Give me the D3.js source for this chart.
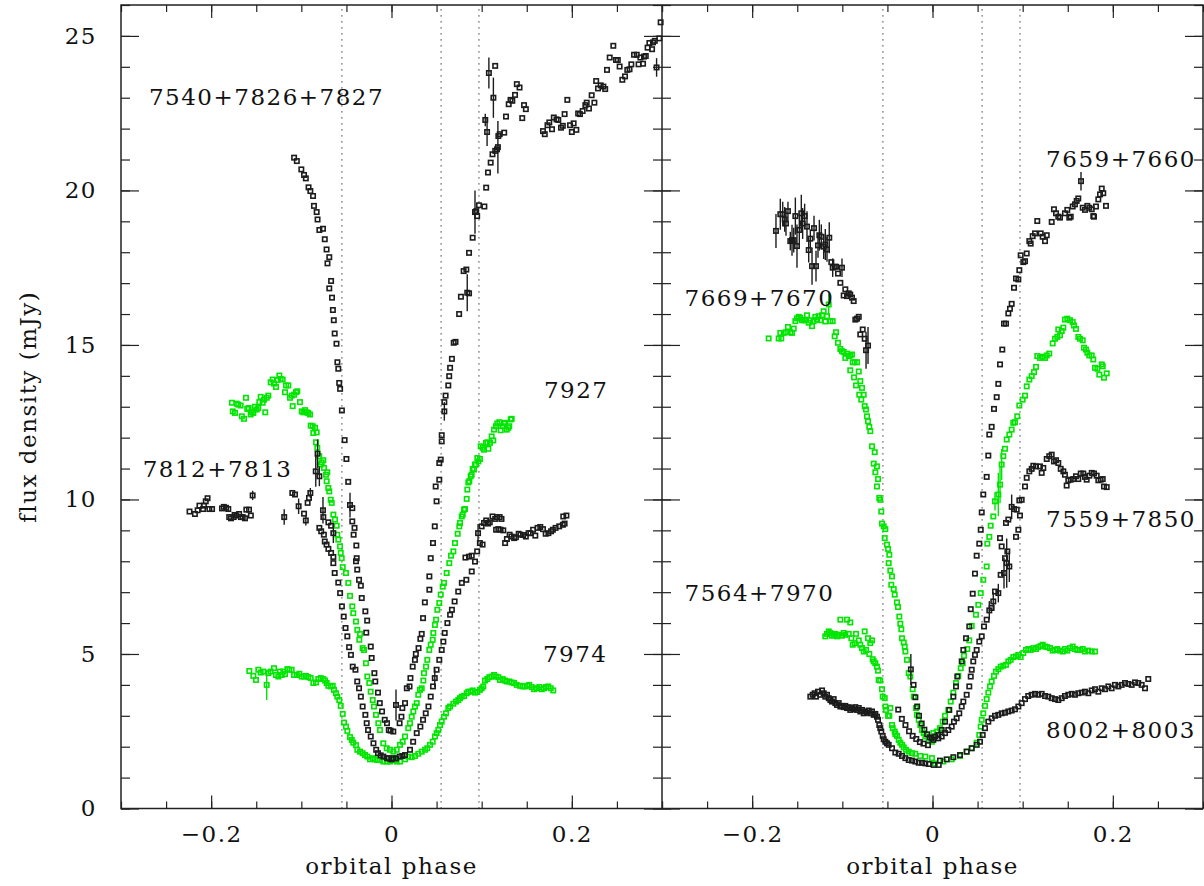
<!DOCTYPE html>
<html lang="en">
<head>
<meta charset="utf-8" />
<title>Eclipse light curves</title>
<script src="https://d3js.org/d3.v7.min.js"></script>
<style>
  body { margin: 0; background: #fff; }
  svg text { font-family: "DejaVu Serif", serif; font-size: 23px; letter-spacing: 1.5px; fill: #111; }
</style>
</head>
<body>
<script>
// ---- data: [phase, flux (mJy), error] ----
// left panel
const s7540 = [[-0.108,21.06],[-0.105,20.95],[-0.100,20.68],[-0.097,20.5],[-0.095,20.39],[-0.092,20.1],[-0.090,19.98],[-0.087,19.82],[-0.086,19.5],[-0.083,19.3],[-0.082,19.06],[-0.080,18.72],[-0.076,18.76],[-0.074,18.42],[-0.072,18.09],[-0.069,17.84],[-0.071,17.64],[-0.067,17.07],[-0.069,16.83],[-0.066,16.53],[-0.065,16.13],[-0.064,15.8],[-0.063,15.37],[-0.061,15.04],[-0.060,14.44],[-0.059,14.23],[-0.058,13.77],[-0.057,13.58],[-0.055,12.88],[-0.052,11.92],[-0.050,11.31],[-0.048,10.57],[-0.046,9.82,0.4],[-0.0435,9.72],[-0.0435,9.29],[-0.041,9.08],[-0.042,8.86],[-0.039,8.51],[-0.0386,8.1],[-0.0394,8.0],[-0.038,7.73],[-0.036,7.40],[-0.034,7.21],[-0.033,6.81],[-0.029,6.38],[-0.027,6.08],[-0.028,5.69],[-0.023,5.24],[-0.022,4.87],[-0.019,4.38],[-0.018,4.11],[-0.015,3.75],[-0.013,3.41],[-0.0105,3.14],[-0.0075,2.87],[-0.005,2.76],[-0.003,2.54],[-0.001,2.52],[0.002,2.49],[0.005,3.35,0.5],[0.009,2.76],[0.011,2.97],[0.012,3.25],[0.015,3.41],[0.017,3.89],[0.020,3.95],[0.021,4.22],[0.0235,4.59],[0.026,4.81],[0.027,5.0],[0.030,5.19],[0.032,5.49],[0.0335,5.65],[0.035,6.16],[0.037,6.67],[0.042,7.08],[0.042,7.51],[0.0435,8.10],[0.046,8.59],[0.048,9.13],[0.050,9.94],[0.049,10.42],[0.053,10.64],[0.053,11.18],[0.0546,11.29],[0.0557,11.88],[0.0557,12.08],[0.0586,12.85,0.3],[0.0586,13.15],[0.060,13.36],[0.063,13.69],[0.064,13.99],[0.065,14.26],[0.067,14.55],[0.069,15.07],[0.071,15.10],[0.075,16.0],[0.077,16.56],[0.084,16.69,0.6],[0.086,16.67],[0.080,17.39],[0.083,17.44],[0.086,17.98],[0.090,18.47],[0.0926,19.3,0.7],[0.094,19.33],[0.095,19.17],[0.097,19.52],[0.103,19.48],[0.105,20.09],[0.107,20.58],[0.110,20.9],[0.112,21.17],[0.115,21.28],[0.117,21.33],[0.118,21.4,0.85],[0.1185,21.76],[0.120,21.82],[0.125,21.87],[0.104,22.28,0.2],[0.106,21.89,0.45],[0.108,23.8,0.5],[0.113,23.0,0.65],[0.115,24.03],[0.127,22.39],[0.130,22.79],[0.132,22.93],[0.134,22.9],[0.137,23.09],[0.139,23.44],[0.142,23.33],[0.145,22.34],[0.147,22.76],[0.149,22.63],[0.168,21.92],[0.170,21.82],[0.173,22.11],[0.175,22.2],[0.178,21.98],[0.180,22.36],[0.183,22.3],[0.185,22.28],[0.188,22.03],[0.190,22.09],[0.192,22.47],[0.195,22.93],[0.198,22.11],[0.200,21.89],[0.202,22.17],[0.205,21.96],[0.207,22.49],[0.209,22.47],[0.212,22.57],[0.215,22.76],[0.2165,22.84],[0.219,22.65],[0.222,23.08],[0.225,22.84],[0.227,23.54],[0.229,23.3],[0.232,23.4],[0.235,23.36],[0.237,23.28],[0.239,23.9],[0.242,24.3],[0.246,24.68],[0.249,24.22],[0.251,24.22],[0.253,24.01],[0.256,23.58],[0.259,23.69],[0.2615,23.9],[0.264,23.92],[0.266,24.08],[0.269,24.39],[0.272,24.39],[0.274,24.08],[0.276,24.3],[0.279,24.1],[0.280,24.33],[0.282,24.35],[0.284,24.62],[0.286,24.77],[0.289,24.57],[0.290,24.79],[0.292,24.84],[0.294,23.98,0.3],[0.297,24.92],[0.2985,25.44]];

const s7812 = [[-0.224,9.61],[-0.218,9.53],[-0.215,9.65],[-0.213,9.8],[-0.209,9.69],[-0.208,9.8],[-0.206,9.94],[-0.204,10.04],[-0.202,9.69],[-0.199,9.69],[-0.188,9.71],[-0.186,9.76],[-0.1835,9.73],[-0.181,9.69],[-0.180,9.43],[-0.178,9.39],[-0.175,9.43],[-0.174,9.5],[-0.172,9.48],[-0.169,9.53],[-0.167,9.43],[-0.165,9.43],[-0.1625,9.39],[-0.161,9.67],[-0.158,9.67],[-0.156,9.48],[-0.154,10.13,0.15],[-0.119,9.43,0.25],[-0.110,10.21],[-0.107,10.16],[-0.103,9.78,0.25],[-0.097,9.54],[-0.095,9.32,0.16],[-0.093,9.89],[-0.0915,10.05],[-0.090,10.21,0.16],[-0.084,10.91,0.5],[-0.082,11.48,0.46],[-0.080,10.75,0.32],[-0.076,9.65,0.43],[-0.0756,9.43],[-0.070,9.26],[-0.067,9.15],[-0.0645,8.91,0.32],[-0.080,9.08],[-0.078,8.97],[-0.075,8.86],[-0.074,8.64],[-0.072,8.54],[-0.070,8.40],[-0.067,8.27],[-0.0645,8.14],[-0.0645,7.94],[-0.063,7.62],[-0.059,7.31],[-0.057,6.97],[-0.055,6.54],[-0.053,6.21],[-0.051,5.84],[-0.049,5.57],[-0.047,5.22],[-0.045,4.97],[-0.043,4.59],[-0.040,4.49],[-0.038,4.11],[-0.036,3.89],[-0.034,3.62],[-0.032,3.30],[-0.029,3.03],[-0.0275,2.76],[-0.026,2.54],[-0.023,2.33],[-0.020,2.11],[-0.017,1.90],[-0.015,1.79],[-0.012,1.72],[-0.009,1.68],[-0.005,1.63],[-0.003,1.62],[0.000,1.59],[0.002,1.63],[0.005,1.62],[0.009,1.68],[0.012,1.7],[0.015,1.73],[0.0205,1.9],[0.024,2.16],[0.028,2.44],[0.032,2.65],[0.035,2.87],[0.038,3.08],[0.041,3.30],[0.0435,3.62],[0.046,3.95],[0.048,4.22,0.3],[0.050,4.49],[0.053,4.81],[0.0557,5.13],[0.0575,5.40],[0.059,5.68],[0.062,6.0],[0.065,6.27],[0.067,6.43],[0.070,6.70],[0.074,7.02],[0.078,7.30],[0.083,7.40],[0.089,7.67],[0.0926,7.99],[0.082,8.12],[0.086,8.15],[0.089,8.18],[0.095,8.32],[0.098,8.59],[0.101,8.54],[0.096,8.91,0.3],[0.100,9.13],[0.1026,9.24],[0.105,9.32],[0.107,9.22],[0.109,9.26],[0.112,9.45],[0.115,9.37],[0.117,9.43],[0.120,9.43],[0.122,9.37],[0.116,9.02],[0.1185,9.04],[0.121,9.02],[0.124,9.0],[0.126,8.59],[0.128,8.72],[0.131,8.86],[0.133,8.80],[0.136,8.75],[0.138,8.78],[0.141,8.89],[0.143,8.86],[0.146,8.85],[0.149,8.80],[0.152,8.91],[0.154,8.91],[0.157,9.02],[0.1595,8.83],[0.162,9.08],[0.165,9.11],[0.168,9.04],[0.171,8.89],[0.174,8.91],[0.177,8.97],[0.179,9.02],[0.182,9.08],[0.186,9.13],[0.190,9.18],[0.192,9.22],[0.1905,9.45],[0.194,9.48]];

const s7927 = [[-0.177,13.13],[-0.176,12.85],[-0.1736,12.80],[-0.1717,13.10],[-0.170,13.07],[-0.1673,13.04],[-0.166,12.69],[-0.1636,12.61],[-0.1614,13.29],[-0.160,12.93],[-0.1584,12.96],[-0.1562,12.75],[-0.155,12.82],[-0.1532,12.80],[-0.1514,13.0],[-0.1495,12.91],[-0.1477,12.96],[-0.1466,13.15],[-0.1451,13.32],[-0.1429,13.13],[-0.1414,13.23],[-0.140,12.82],[-0.1384,13.29],[-0.1366,13.36],[-0.134,13.79],[-0.1318,13.88],[-0.1303,13.75],[-0.1281,13.64],[-0.1266,13.86],[-0.1244,14.01],[-0.1229,13.90],[-0.1207,13.88],[-0.1181,13.47],[-0.117,13.69],[-0.1144,13.69],[-0.1126,13.29],[-0.1107,13.36],[-0.1096,13.02],[-0.1081,13.39],[-0.1059,13.47],[-0.1045,13.50],[-0.1015,13.15],[-0.0996,12.85],[-0.0978,12.82],[-0.0959,12.89],[-0.094,12.82],[-0.0923,12.80],[-0.0904,12.75],[-0.0896,12.39],[-0.0874,12.37],[-0.0867,12.15],[-0.0848,12.32],[-0.083,12.17],[-0.0837,11.85],[-0.0823,11.67],[-0.0801,11.40],[-0.0785,11.13],[-0.0774,11.2],[-0.0756,11.27],[-0.0749,11.02],[-0.0726,10.80],[-0.0712,10.88],[-0.0719,10.59],[-0.0701,10.37],[-0.069,10.26],[-0.0674,9.99],[-0.0663,9.89],[-0.0645,9.51],[-0.0627,9.35],[-0.0608,9.15],[-0.0601,8.86],[-0.059,8.70],[-0.0571,8.48],[-0.0563,8.27],[-0.0552,8.10],[-0.0541,7.81],[-0.0505,7.62],[-0.0479,7.30],[-0.046,6.88],[-0.0435,6.54],[-0.0424,6.32],[-0.0394,6.05],[-0.0379,5.78],[-0.0349,5.65],[-0.0357,5.46],[-0.032,5.19],[-0.0305,5.13],[-0.0283,4.70],[-0.0268,4.27],[-0.0246,4.06],[-0.0231,3.78],[-0.0208,3.51],[-0.0194,3.30],[-0.0172,3.03],[-0.0146,2.76],[-0.0128,2.54],[-0.0091,2.11],[-0.0053,1.95],[-0.0017,1.90],[0.002,1.84],[0.0058,1.90],[0.0094,2.06],[0.0124,2.16],[0.015,2.33],[0.0186,2.60],[0.0205,2.76],[0.0224,2.97],[0.0242,3.14],[0.026,3.30],[0.028,3.41],[0.0297,3.68],[0.0316,3.84],[0.0335,3.89],[0.0353,4.14],[0.036,4.38],[0.0383,4.59],[0.0397,4.81],[0.0419,5.13],[0.0435,5.30],[0.0457,5.46],[0.0464,5.68],[0.0482,5.94],[0.0494,6.11],[0.0508,6.43],[0.053,6.65],[0.0546,6.92],[0.0568,7.18],[0.0582,7.30],[0.0612,7.62],[0.0641,7.94],[0.066,8.18],[0.0686,8.32],[0.0704,8.59],[0.0734,8.89],[0.0752,9.13],[0.076,9.24],[0.0779,9.45],[0.079,9.51],[0.0804,9.67],[0.0815,9.69],[0.0834,10.02],[0.0841,10.32],[0.0852,10.55],[0.0863,10.59],[0.0878,10.75],[0.0889,10.80],[0.090,10.99],[0.0915,10.97],[0.0926,11.13],[0.0937,11.13],[0.0952,11.34],[0.0963,11.23],[0.0981,11.31],[0.0989,11.72],[0.1011,11.67],[0.1026,11.61],[0.1048,11.83],[0.1063,11.85],[0.1074,11.64],[0.1092,11.83],[0.1111,12.04],[0.1129,11.91],[0.1137,12.26],[0.1159,12.37],[0.1173,12.46],[0.1196,12.50],[0.1211,12.24],[0.1233,12.37],[0.1248,12.46],[0.1259,12.48],[0.1278,12.26],[0.1296,12.32],[0.1306,12.37],[0.1322,12.59],[0.1333,12.61]];

const s7974 = [[-0.1577,4.45],[-0.1532,4.29],[-0.1503,4.16],[-0.1477,4.49],[-0.1451,4.40],[-0.1422,4.43],[-0.1384,4.0,0.49],[-0.1366,4.38],[-0.134,4.43],[-0.1303,4.54],[-0.1281,4.32],[-0.1255,4.27],[-0.1237,4.43],[-0.1218,4.32],[-0.12,4.43],[-0.1181,4.35],[-0.1155,4.51],[-0.1133,4.49],[-0.1107,4.49],[-0.1081,4.32],[-0.1051,4.32],[-0.1022,4.36],[-0.0996,4.27],[-0.097,4.27],[-0.0948,4.29],[-0.0923,4.25],[-0.0896,4.22],[-0.0867,4.06],[-0.0837,4.08],[-0.0812,4.19],[-0.0785,4.22],[-0.0756,4.19],[-0.0737,4.14],[-0.0719,4.06],[-0.0701,3.97],[-0.0674,3.95],[-0.0652,3.97],[-0.0638,3.84],[-0.0616,3.73],[-0.0601,3.62],[-0.0579,3.51],[-0.0563,3.32],[-0.0541,3.06],[-0.0527,2.78],[-0.0505,2.65],[-0.049,2.51],[-0.046,2.31],[-0.0441,2.22],[-0.0424,2.13],[-0.0394,2.05],[-0.0379,1.90],[-0.0349,1.84],[-0.032,1.79],[-0.0294,1.73],[-0.0268,1.68],[-0.0238,1.59],[-0.0208,1.63],[-0.0183,1.59],[-0.0157,1.57],[-0.0128,1.57],[-0.0091,1.52],[-0.0053,1.52],[-0.0017,1.52],[0.0002,1.57],[0.0039,1.57],[0.0058,1.52],[0.0094,1.52],[0.015,1.59],[0.0186,1.68],[0.0224,1.66],[0.026,1.70],[0.0297,1.77],[0.0335,1.84],[0.0372,1.90],[0.0397,1.95],[0.0427,2.06],[0.0457,2.16],[0.0482,2.33],[0.0501,2.44],[0.0519,2.54],[0.0538,2.70],[0.0557,2.81],[0.0582,2.97],[0.0604,3.08],[0.063,3.25],[0.0649,3.30],[0.0686,3.39],[0.0715,3.46],[0.0741,3.51],[0.076,3.57],[0.0779,3.62],[0.0804,3.64],[0.0834,3.73],[0.0852,3.78],[0.0878,3.78],[0.09,3.82],[0.0926,3.75],[0.0952,3.77],[0.0981,3.84],[0.1,3.89],[0.1018,3.95],[0.1037,4.14],[0.1063,4.19],[0.1085,4.25],[0.1111,4.27],[0.1137,4.32],[0.1159,4.27],[0.1185,4.25],[0.1203,4.16],[0.1233,4.19],[0.1259,4.14],[0.1278,4.11],[0.1306,4.11],[0.1333,4.08],[0.1359,4.06],[0.1388,4.0],[0.1425,3.97],[0.1455,3.95],[0.1481,3.95],[0.1506,3.97],[0.1528,4.0],[0.1555,3.93],[0.158,3.86],[0.161,3.89],[0.1639,3.93],[0.1666,3.86],[0.1691,3.89],[0.1713,3.93],[0.1739,3.95],[0.1766,3.89],[0.1794,3.82]];

// right panel
const s7659 = [[-0.1736,18.69,0.55],[-0.1688,19.23,0.5],[-0.1661,19.23,0.4],[-0.1639,19.06,0.4],[-0.1625,18.93,0.4],[-0.1603,19.33,0.3],[-0.1577,18.36,0.3],[-0.1558,18.39,0.5],[-0.1539,18.39,0.4],[-0.1521,19.17,0.6],[-0.1503,18.20,0.7],[-0.1477,18.72,0.5],[-0.1455,19.26,0.6],[-0.144,18.93,0.5],[-0.1418,19.17,0.4],[-0.1392,18.83,0.5],[-0.1373,18.07,0.4],[-0.1355,18.44,0.3],[-0.1336,17.55,0.6],[-0.1314,18.78,0.4],[-0.1292,17.55,0.5],[-0.127,18.22,0.4],[-0.1255,18.55,0.5],[-0.1233,18.50,0.4],[-0.1207,18.18,0.4],[-0.1189,18.25,0.5],[-0.117,18.09,0.4],[-0.1145,18.47,0.5],[-0.1122,17.68],[-0.1107,17.50,0.3],[-0.1085,17.53],[-0.107,17.53],[-0.1048,17.31],[-0.1022,17.01],[-0.1004,17.50,0.3],[-0.0985,16.60],[-0.0967,16.80],[-0.0948,16.58],[-0.0929,16.67],[-0.0912,16.63],[-0.0893,16.53],[-0.0874,16.42],[-0.0856,15.82],[-0.0837,15.85],[-0.0818,15.91],[-0.0801,15.34],[-0.0774,15.50],[-0.0752,15.20],[-0.0737,14.83,0.6],[-0.0715,14.98,0.6],[-0.024,4.5,0.5],[-0.021,4.0],[-0.019,3.6],[-0.017,3.3],[-0.015,3.0],[-0.012,2.75],[-0.009,2.55],[-0.006,2.4],[-0.003,2.3],[-0.0009,2.27],[0.0028,2.33],[0.0064,2.38],[0.0102,2.54],[0.0139,2.81],[0.0186,3.19],[0.0231,3.62],[0.0261,3.95],[0.0275,4.27],[0.0324,4.76],[0.0342,5.13],[0.0372,5.51],[0.0408,5.89],[0.0424,6.45],[0.0446,6.95],[0.0471,7.60],[0.049,8.18],[0.0519,8.57],[0.0535,9.02],[0.0546,9.58],[0.0563,10.16],[0.0601,10.73],[0.0619,11.42],[0.063,12.10],[0.0656,12.35],[0.0682,12.93],[0.0712,13.31],[0.073,13.74],[0.0749,14.37],[0.0774,14.85],[0.0793,15.69],[0.0815,15.69],[0.0841,16.02],[0.0859,16.17],[0.0878,16.33],[0.0904,16.85],[0.0926,17.15],[0.0952,17.12],[0.0963,17.42],[0.0978,17.90],[0.1007,17.68],[0.1026,17.71],[0.1045,17.96],[0.1074,18.36],[0.1089,18.28],[0.1111,18.52],[0.1137,18.61],[0.1162,19.01],[0.12,18.61],[0.1222,18.50],[0.1248,18.36],[0.1267,18.55],[0.1322,18.98],[0.1347,19.39],[0.137,19.26],[0.1395,19.15],[0.1414,19.12],[0.1469,19.26],[0.1495,19.37],[0.1517,19.12],[0.1533,19.15],[0.1555,19.48],[0.158,19.55],[0.1599,19.66],[0.1617,19.74],[0.1647,20.30,0.3],[0.1666,19.44],[0.1691,19.37],[0.1717,19.50],[0.1739,19.44],[0.1766,19.39],[0.1783,19.17],[0.1791,19.15],[0.1813,19.48],[0.1839,19.71],[0.1858,19.87],[0.1877,20.06],[0.1894,19.91],[0.1924,19.50]];

const s7669 = [[-0.1817,15.21],[-0.1706,15.21],[-0.1677,15.21],[-0.1688,15.39],[-0.165,15.39],[-0.1625,15.41],[-0.1603,15.58],[-0.1577,15.41],[-0.1558,15.39],[-0.1539,15.53],[-0.1521,15.77],[-0.1503,15.86],[-0.1484,15.91],[-0.1466,15.88],[-0.1447,15.80],[-0.1428,15.80],[-0.1411,15.80],[-0.1392,15.96],[-0.1373,15.72],[-0.1355,15.80],[-0.1336,15.61],[-0.1318,15.77],[-0.13,15.91],[-0.1281,15.82],[-0.1262,15.93],[-0.1244,15.80],[-0.1225,15.96],[-0.1207,16.09],[-0.1189,15.76],[-0.117,15.93],[-0.1151,16.31,0.35],[-0.1133,15.77],[-0.1107,15.77],[-0.1085,15.28],[-0.107,15.41],[-0.1048,15.07],[-0.1022,14.87],[-0.1004,14.80],[-0.0985,14.77],[-0.0967,14.58],[-0.0948,14.72],[-0.0929,14.64],[-0.0912,14.66],[-0.0893,14.69],[-0.0885,14.44],[-0.0863,14.44],[-0.0837,14.44],[-0.0912,14.18],[-0.087,13.95],[-0.0818,14.14],[-0.0848,13.69],[-0.0801,13.83],[-0.0782,13.61],[-0.0812,13.39],[-0.079,13.23],[-0.0763,13.39],[-0.0752,13.02],[-0.0737,12.91],[-0.0726,12.69],[-0.0715,12.53],[-0.0701,12.35],[-0.069,12.21],[-0.0671,11.72],[-0.0641,11.53],[-0.0652,11.16],[-0.0616,11.07],[-0.0634,10.88],[-0.0604,10.66],[-0.0616,10.42],[-0.059,10.05],[-0.0579,9.99],[-0.0568,9.61],[-0.056,9.22],[-0.0541,9.13],[-0.0523,9.04],[-0.053,8.75],[-0.0505,8.54],[-0.0493,8.40],[-0.0479,8.21],[-0.0486,7.94],[-0.0468,7.70],[-0.0449,7.51],[-0.0457,7.24],[-0.043,7.10],[-0.0419,6.92],[-0.0394,6.67],[-0.0383,6.52],[-0.0368,6.21],[-0.0357,5.98],[-0.0346,5.80],[-0.0338,5.51],[-0.0319,5.37],[-0.0308,5.24],[-0.0301,5.08],[-0.0283,4.81],[-0.0264,4.38],[-0.0246,4.27],[-0.022,3.86],[-0.0208,3.62],[-0.0183,3.25],[-0.0172,3.03],[-0.0153,2.87],[-0.0135,2.70],[-0.0116,2.54],[-0.0098,2.44],[-0.008,2.33],[-0.0042,2.22],[-0.0006,2.16],[0.0009,2.44],[0.0047,2.49],[0.0083,2.60],[0.0113,2.81],[0.0139,3.0],[0.0175,3.19],[0.0202,3.46],[0.0231,3.75],[0.0261,4.06],[0.0286,4.29],[0.0313,4.54],[0.0335,4.70],[0.0349,4.94],[0.0386,5.16],[0.0408,5.44],[0.0435,5.91],[0.0482,6.27],[0.0508,6.59],[0.0535,6.97],[0.0563,7.40],[0.0601,7.83],[0.0608,8.57],[0.063,8.79],[0.0645,9.15],[0.0674,9.45],[0.0693,9.94,0.3],[0.073,10.16,0.7],[0.0749,10.48,0.6],[0.0767,11.13,0.5],[0.0785,11.40],[0.0804,11.64],[0.0823,11.94],[0.0852,12.10],[0.0878,12.26],[0.0896,12.48],[0.0915,12.50],[0.094,12.69],[0.0963,13.04],[0.1,13.23],[0.1026,13.36],[0.1045,13.66],[0.1074,13.88],[0.11,13.99],[0.1126,14.12],[0.1148,14.29],[0.1162,14.64],[0.1192,14.58],[0.1222,14.62],[0.1248,14.58],[0.1267,14.66],[0.1295,14.72],[0.1333,15.05],[0.1359,15.20],[0.1384,15.26],[0.1414,15.31],[0.1395,15.50],[0.1433,15.45],[0.1451,15.56],[0.1469,15.82],[0.1495,15.85],[0.1525,15.80],[0.1555,15.74],[0.1569,15.63],[0.1591,15.52],[0.1617,15.26],[0.1636,15.20],[0.1666,15.15],[0.168,14.91],[0.1702,14.85],[0.1717,14.75],[0.1739,14.66],[0.1766,14.66],[0.1783,14.53],[0.1802,14.26],[0.1828,14.23],[0.185,14.04],[0.1877,14.37],[0.1888,14.31],[0.1902,13.94],[0.1932,14.08]];

const s7559 = [[-0.038,3.2],[-0.034,2.9],[-0.030,2.7],[-0.026,2.5],[-0.022,2.35],[-0.018,2.25],[-0.014,2.15],[-0.010,2.1],[-0.005,2.05],[0.0009,2.22],[0.0064,2.27],[0.0102,2.33],[0.0139,2.44],[0.0175,2.54],[0.0213,2.65],[0.0238,2.81],[0.0268,2.92],[0.0297,3.08],[0.0324,3.30],[0.0342,3.46],[0.0379,3.68],[0.0408,3.95],[0.0424,4.27],[0.0435,4.49],[0.0452,4.76],[0.0471,4.97],[0.049,5.13],[0.0519,5.40],[0.0546,5.57],[0.0571,5.89],[0.0601,6.11],[0.063,6.41,0.3],[0.0656,6.49],[0.0674,6.70,0.3],[0.0693,7.02],[0.073,6.97,0.3],[0.0756,7.56],[0.0793,7.62,0.5],[0.0823,7.94,0.8],[0.0852,7.83,0.5],[0.0804,8.10],[0.083,8.32],[0.0767,8.48],[0.0749,8.75],[0.0815,9.24],[0.0841,9.35],[0.0878,9.76,0.4],[0.0904,9.69],[0.0934,9.67],[0.0952,9.02],[0.097,9.48],[0.0926,8.79],[0.0963,9.97],[0.0989,9.99],[0.1026,10.42],[0.1045,10.70],[0.1074,10.91],[0.11,10.99],[0.1118,11.09],[0.1148,11.07],[0.1192,11.07],[0.1211,10.86],[0.1229,11.02],[0.1267,11.31],[0.1295,11.40],[0.1322,11.45],[0.1347,11.23],[0.137,11.27],[0.1395,11.18],[0.1422,10.99],[0.1451,10.91],[0.1469,10.80],[0.1488,10.45],[0.1506,10.62],[0.1533,10.64],[0.1561,10.66],[0.1591,10.75],[0.1617,10.66],[0.1644,10.84],[0.1672,10.84],[0.1691,10.73],[0.171,10.64],[0.1739,10.77],[0.1766,10.86],[0.1791,10.84],[0.1821,10.77],[0.1839,10.62],[0.1865,10.64],[0.1888,10.66],[0.1902,10.42],[0.1932,10.40]];

const s7564 = [[-0.1189,5.57],[-0.117,5.65],[-0.1151,5.73],[-0.1133,5.68],[-0.1115,5.59],[-0.1096,5.62],[-0.1078,5.65],[-0.1059,5.57],[-0.104,5.62],[-0.1022,6.11],[-0.1004,5.59],[-0.0985,5.68],[-0.0967,5.62],[-0.0948,6.11],[-0.0929,5.65],[-0.0912,6.02],[-0.09,5.51],[-0.0885,5.30],[-0.0863,5.35],[-0.0848,5.65],[-0.0818,5.44],[-0.0801,5.30],[-0.0782,5.19],[-0.0763,5.08],[-0.0752,5.73],[-0.0737,5.13],[-0.0715,5.51],[-0.0701,5.0],[-0.069,5.35],[-0.0671,5.44],[-0.0663,4.83],[-0.0652,4.76],[-0.0634,4.70],[-0.0616,4.59],[-0.0604,4.46],[-0.0597,4.16],[-0.0579,4.14],[-0.056,3.86],[-0.0552,3.62],[-0.053,3.57],[-0.0523,3.30],[-0.0516,3.19],[-0.0493,3.0],[-0.0479,3.0],[-0.0468,3.25],[-0.0449,2.70],[-0.0441,2.60],[-0.0419,2.49],[-0.0412,2.41],[-0.0394,2.35],[-0.0375,2.22],[-0.0357,2.13],[-0.0338,2.06],[-0.0319,1.98],[-0.0294,1.90],[-0.0264,1.84],[-0.0227,1.79],[-0.0191,1.77],[-0.0135,1.70],[-0.008,1.68],[-0.0006,1.63],[0.0028,1.46],[0.012,1.52],[0.0213,1.59],[0.0305,1.70],[0.0379,1.84],[0.0435,1.95],[0.049,2.13],[0.0519,2.38],[0.0535,2.65],[0.0546,2.87],[0.0563,3.08],[0.0582,3.32],[0.0601,3.54],[0.0619,3.75],[0.0638,3.95],[0.0656,4.11],[0.0682,4.29],[0.0704,4.43],[0.073,4.51],[0.0756,4.59],[0.0785,4.62],[0.0815,4.65],[0.0841,4.76],[0.0867,4.81],[0.0896,4.90],[0.0926,4.92],[0.0952,4.97],[0.0978,4.90],[0.1007,5.03],[0.1037,5.13],[0.1062,5.16],[0.1089,5.13],[0.1118,5.19],[0.1148,5.16],[0.1173,5.22],[0.12,5.26],[0.1222,5.30],[0.1248,5.24],[0.1273,5.22],[0.1303,5.19],[0.1333,5.11],[0.1359,5.13],[0.1384,5.16],[0.1414,5.11],[0.1444,5.08],[0.1469,5.16],[0.1495,5.11],[0.1525,5.19],[0.1555,5.24],[0.158,5.16],[0.1606,5.13],[0.1636,5.13],[0.1666,5.16],[0.1691,5.08],[0.1728,5.11],[0.1766,5.08],[0.1802,5.08]];

const s8002 = [[-0.1355,3.62],[-0.1329,3.68],[-0.1307,3.73],[-0.1292,3.62],[-0.127,3.78],[-0.1244,3.68],[-0.1225,3.82],[-0.1207,3.73],[-0.1189,3.62],[-0.117,3.68],[-0.1151,3.57],[-0.1133,3.51],[-0.1115,3.46],[-0.1096,3.54],[-0.1078,3.41],[-0.1059,3.35],[-0.104,3.41],[-0.1022,3.30],[-0.1004,3.32],[-0.0985,3.28],[-0.0967,3.32],[-0.0948,3.25],[-0.0929,3.28],[-0.0912,3.19],[-0.0893,3.25],[-0.0874,3.21],[-0.0856,3.28],[-0.0837,3.19],[-0.0818,3.25],[-0.0801,3.14],[-0.0782,3.19],[-0.0763,3.08],[-0.0745,3.14],[-0.0726,3.10],[-0.0708,3.17],[-0.069,3.08],[-0.0671,3.14],[-0.0652,3.03],[-0.0634,3.06],[-0.0616,2.97],[-0.0604,2.87],[-0.059,2.70],[-0.0579,2.60],[-0.0568,2.49],[-0.0552,2.35],[-0.0541,2.24],[-0.0523,2.16],[-0.0505,2.11],[-0.0486,2.06],[-0.0449,1.95],[-0.0412,1.81],[-0.0375,1.77],[-0.0338,1.70],[-0.0301,1.63],[-0.0264,1.57],[-0.0227,1.55],[-0.0191,1.52],[-0.0153,1.48],[-0.0116,1.48],[-0.008,1.46],[-0.0042,1.44],[0.0013,1.41],[0.0069,1.41],[0.0083,1.55],[0.0157,1.59],[0.0231,1.66],[0.0305,1.73],[0.0379,1.84],[0.0435,1.95],[0.049,2.06],[0.0527,2.16],[0.0557,2.38],[0.0582,2.60],[0.0619,2.81],[0.0657,2.92],[0.0693,3.0],[0.073,3.03],[0.0767,3.08],[0.0804,3.10],[0.0841,3.14],[0.0878,3.17],[0.0915,3.21],[0.0952,3.30],[0.0989,3.41],[0.1026,3.54],[0.1062,3.64],[0.11,3.68],[0.1137,3.71],[0.1173,3.68],[0.1211,3.71],[0.1248,3.64],[0.1284,3.62],[0.1322,3.57],[0.1359,3.54],[0.1395,3.51],[0.1433,3.57],[0.1469,3.64],[0.1506,3.68],[0.1544,3.71],[0.158,3.68],[0.1617,3.73],[0.1655,3.75],[0.1691,3.78],[0.1728,3.73],[0.1766,3.82],[0.1802,3.86],[0.1839,3.78],[0.1877,3.89],[0.1913,3.86],[0.195,3.95],[0.1987,3.89],[0.2024,4.0],[0.2061,3.95],[0.2098,4.0],[0.2135,4.06],[0.2172,4.03],[0.2209,4.0],[0.2246,4.08],[0.2282,4.06],[0.232,4.0],[0.2357,3.89],[0.2393,4.19]];

// eclipse contact phases (dotted lines)
const contactPhases = [-0.055, 0.055, 0.097];

// axis ticks
const phaseMajor = [-0.2, 0, 0.2];
const phaseMinor = d3.range(-6, 7).map(i => i * 0.05);
const fluxMajor = [0, 5, 10, 15, 20, 25];
const fluxMinor = d3.range(0, 27);

// series labels, anchored at [phase, flux]
const leftLabels = [
  {text: "7540+7826+7827", at: [-0.269, 22.76]},
  {text: "7812+7813", at: [-0.276, 10.74]},
  {text: "7927", at: [0.169, 13.27]},
  {text: "7974", at: [0.168, 4.75]}
];
const rightLabels = [
  {text: "7659+7660", at: [0.126, 20.75]},
  {text: "7669+7670", at: [-0.275, 16.25]},
  {text: "7559+7850", at: [0.126, 9.12]},
  {text: "7564+7970", at: [-0.275, 6.72]},
  {text: "8002+8003", at: [0.126, 2.28]}
];

const BLACK = "#1c1c1c", GREEN = "#00e600";

const W = 1204, H = 886;
const yTop = 5, yBot = 808.5, xLeft = 121, xMid = 662, xRight = 1203;

const svg = d3.select("body").append("svg")
  .attr("width", W).attr("height", H);

const y = d3.scaleLinear().domain([0, 26]).range([yBot, yTop]);
const xL = d3.scaleLinear().domain([-0.3, 0.3]).range([xLeft, xMid]);
const xR = d3.scaleLinear().domain([-0.3, 0.3]).range([xMid, xRight]);

const phaseFmt = d => d === 0 ? "0" : d3.format(".1f")(d);

function ticks(g, axis, transform) {
  g.append("g").attr("transform", transform).call(axis)
    .call(s => s.select(".domain").remove())
    .call(s => s.selectAll(".tick line").attr("stroke", "#222").attr("stroke-width", 1.2));
}

function drawPanel(x, showY) {
  const g = svg.append("g");

  // dotted contact lines
  g.selectAll(null).data(contactPhases).join("line")
    .attr("x1", d => x(d)).attr("x2", d => x(d))
    .attr("y1", y(0)).attr("y2", y(26))
    .attr("stroke", "#333").attr("stroke-width", 1.1)
    .attr("stroke-dasharray", "1.2,4.8");

  // x ticks bottom/top
  ticks(g, d3.axisBottom(x).tickValues(phaseMinor).tickSizeInner(-7).tickSizeOuter(0).tickFormat(""), `translate(0,${yBot})`);
  ticks(g, d3.axisBottom(x).tickValues(phaseMajor).tickSizeInner(-13).tickSizeOuter(0).tickPadding(17).tickFormat(phaseFmt), `translate(0,${yBot})`);
  ticks(g, d3.axisTop(x).tickValues(phaseMinor).tickSizeInner(-7).tickSizeOuter(0).tickFormat(""), `translate(0,${yTop})`);
  ticks(g, d3.axisTop(x).tickValues(phaseMajor).tickSizeInner(-13).tickSizeOuter(0).tickFormat(""), `translate(0,${yTop})`);

  // y ticks left/right
  const x0 = x.range()[0], x1 = x.range()[1];
  ticks(g, d3.axisLeft(y).tickValues(fluxMinor).tickSizeInner(-9).tickSizeOuter(0).tickFormat(""), `translate(${x0},0)`);
  ticks(g, d3.axisLeft(y).tickValues(fluxMajor).tickSizeInner(-18).tickSizeOuter(0).tickPadding(24)
    .tickFormat(showY ? d3.format("d") : ""), `translate(${x0},0)`);
  ticks(g, d3.axisRight(y).tickValues(fluxMinor).tickSizeInner(-9).tickSizeOuter(0).tickFormat(""), `translate(${x1},0)`);
  ticks(g, d3.axisRight(y).tickValues(fluxMajor).tickSizeInner(-18).tickSizeOuter(0).tickFormat(""), `translate(${x1},0)`);

  g.append("text")
    .attr("x", (x0 + x1) / 2).attr("y", 874)
    .attr("text-anchor", "middle")
    .text("orbital phase");
  return g;
}

function drawSeries(g, x, data, color) {
  g.selectAll(null).data(data.filter(d => d[2])).join("line")
    .attr("x1", d => x(d[0])).attr("x2", d => x(d[0]))
    .attr("y1", d => y(d[1] - d[2])).attr("y2", d => y(d[1] + d[2]))
    .attr("stroke", color).attr("stroke-width", 1.4);
  g.selectAll(null).data(data).join("rect")
    .attr("x", d => x(d[0]) - 2.2).attr("y", d => y(d[1]) - 2.2)
    .attr("width", 4.4).attr("height", 4.4)
    .attr("fill", "none").attr("stroke", color).attr("stroke-width", 1.6);
}

function drawLabels(g, x, labels) {
  g.selectAll(null).data(labels).join("text")
    .attr("x", d => x(d.at[0])).attr("y", d => y(d.at[1]))
    .text(d => d.text);
}

const gl = drawPanel(xL, true);
drawSeries(gl, xL, s7974, GREEN);
drawSeries(gl, xL, s7927, GREEN);
drawSeries(gl, xL, s7812, BLACK);
drawSeries(gl, xL, s7540, BLACK);
drawLabels(gl, xL, leftLabels);

const gr = drawPanel(xR, false);
drawSeries(gr, xR, s7564, GREEN);
drawSeries(gr, xR, s7669, GREEN);
drawSeries(gr, xR, s8002, BLACK);
drawSeries(gr, xR, s7559, BLACK);
drawSeries(gr, xR, s7659, BLACK);
drawLabels(gr, xR, rightLabels);

// frame
svg.append("rect")
  .attr("x", xLeft).attr("y", yTop)
  .attr("width", xRight - xLeft).attr("height", yBot - yTop)
  .attr("fill", "none").attr("stroke", "#222").attr("stroke-width", 1.5);
svg.append("line")
  .attr("x1", xMid).attr("x2", xMid).attr("y1", yTop).attr("y2", yBot)
  .attr("stroke", "#222").attr("stroke-width", 1.5);

svg.append("text")
  .attr("transform", `translate(36,${(yTop + yBot) / 2}) rotate(-90)`)
  .attr("text-anchor", "middle")
  .text("flux density (mJy)");
</script>
</body>
</html>
